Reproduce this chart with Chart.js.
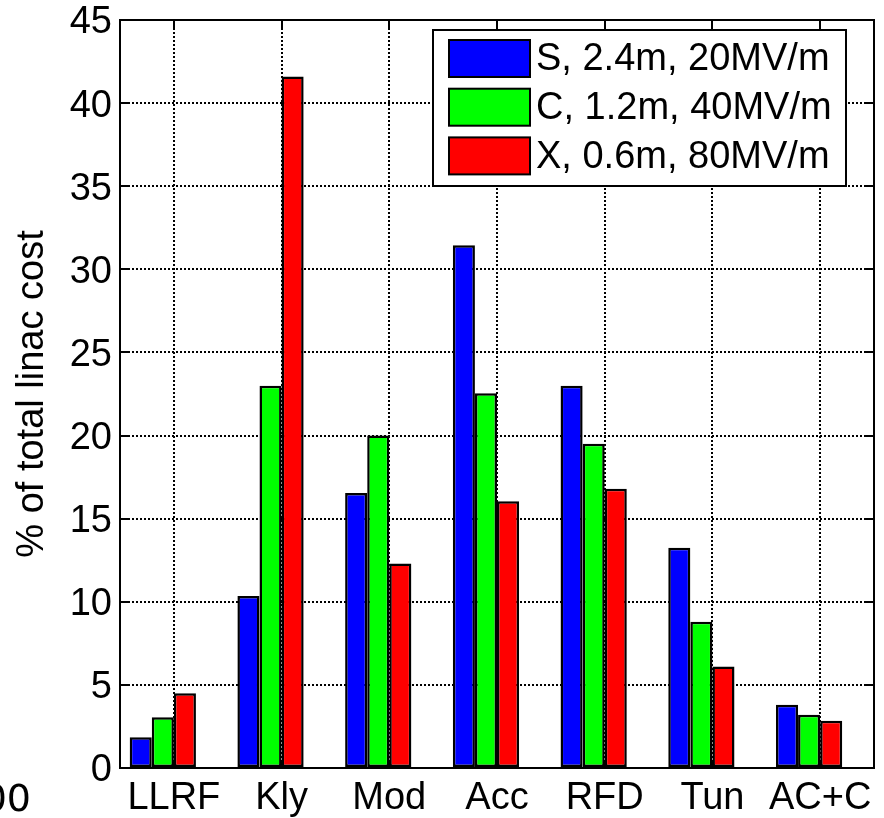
<!DOCTYPE html>
<html>
<head>
<meta charset="utf-8">
<script src="https://cdn.jsdelivr.net/npm/chart.js@4.4.1/dist/chart.umd.min.js"></script>
<style>
  html, body { margin: 0; padding: 0; background: #ffffff; }
  #wrap { width: 884px; height: 818px; }
</style>
</head>
<body>
<div id="wrap"><canvas id="c" width="884" height="818"></canvas></div>
<script>
// Cost components along the linac
const categories = ['LLRF', 'Kly', 'Mod', 'Acc', 'RFD', 'Tun', 'AC+C'];

// Share of total linac cost (%) for each RF band
const seriesNames = ['S, 2.4m, 20MV/m', 'C, 1.2m, 40MV/m', 'X, 0.6m, 80MV/m'];
const sBand = [1.85, 10.35, 16.55, 31.45, 23.0, 13.25, 3.8];
const cBand = [3.05, 23.0, 20.0, 22.55, 19.5, 8.8, 3.2];
const xBand = [4.5, 41.6, 12.3, 16.05, 16.8, 6.1, 2.85];
const seriesColors = ['#0000ff', '#00ff00', '#ff0000'];

// Value axis
const yTicks = [0, 5, 10, 15, 20, 25, 30, 35, 40, 45];
const yTitle = '% of total linac cost';
const cornerLabel = '00';

const FONT = '"Liberation Sans", Arial, Helvetica, sans-serif';
const FS = 38;

const bandData = [sBand, cBand, xBand];
const datasets = bandData.map((vals, i) => ({
  label: seriesNames[i],
  data: vals,
  backgroundColor: seriesColors[i],
  borderColor: '#000000',
  borderWidth: 2.5,
  borderSkipped: false
}));
// empty fourth bar slot in every group
datasets.push({ label: '', data: [], backgroundColor: 'rgba(0,0,0,0)', borderWidth: 0 });

const decorations = {
  id: 'decorations',
  afterDatasetsDraw(chart) {
    const { ctx, chartArea: a, scales } = chart;
    const xs = scales.x, ys = scales.y;
    ctx.save();
    ctx.strokeStyle = '#000';
    ctx.lineWidth = 2;
    ctx.setLineDash([]);
    // inward tick marks on all four sides
    const tl = 8;
    ctx.beginPath();
    yTicks.forEach(v => {
      const y = Math.round(ys.getPixelForValue(v));
      ctx.moveTo(a.left, y); ctx.lineTo(a.left + tl, y);
      ctx.moveTo(a.right, y); ctx.lineTo(a.right - tl, y);
    });
    categories.forEach((c, i) => {
      const x = Math.round(xs.getPixelForValue(i));
      ctx.moveTo(x, a.top); ctx.lineTo(x, a.top + tl);
      ctx.moveTo(x, a.bottom); ctx.lineTo(x, a.bottom - tl);
    });
    ctx.stroke();
    // axes box
    ctx.strokeRect(a.left, a.top, a.right - a.left, a.bottom - a.top);

    // legend box
    const lx = 433, ly = 30, lw = 413, lh = 156;
    ctx.fillStyle = '#fff';
    ctx.fillRect(lx, ly, lw, lh);
    ctx.strokeRect(lx, ly, lw, lh);
    ctx.font = FS + 'px ' + FONT;
    ctx.textBaseline = 'middle';
    ctx.textAlign = 'left';
    for (let i = 0; i < 3; i++) {
      const ds = chart.data.datasets[i];
      const top = 40 + i * 48.7;
      ctx.fillStyle = ds.backgroundColor;
      ctx.fillRect(449, top, 81, 37);
      ctx.strokeRect(449, top, 81, 37);
      ctx.fillStyle = '#000';
      ctx.fillText(ds.label, 536, top + 20);
    }

    // value axis title
    ctx.save();
    ctx.translate(33, (a.top + a.bottom) / 2);
    ctx.rotate(-Math.PI / 2);
    ctx.textAlign = 'center';
    ctx.textBaseline = 'middle';
    ctx.font = FS + 'px ' + FONT;
    ctx.fillText(yTitle, 0, 0);
    ctx.restore();

    // label running in from the neighbouring panel
    ctx.font = '38px "DejaVu Sans", sans-serif';
    ctx.textAlign = 'right';
    ctx.textBaseline = 'alphabetic';
    ctx.fillText(cornerLabel, 31, 811);
    ctx.restore();
  }
};

new Chart(document.getElementById('c'), {
  type: 'bar',
  data: { labels: categories, datasets },
  options: {
    responsive: false,
    animation: false,
    devicePixelRatio: 1,
    layout: { padding: { top: 20, right: 10, left: 0, bottom: 0 }, autoPadding: false },
    plugins: { legend: { display: false }, tooltip: { enabled: false } },
    datasets: { bar: { barPercentage: 1.0, categoryPercentage: 0.82 } },
    scales: {
      x: {
        offset: true,
        grid: { offset: false, color: '#000', lineWidth: 2, drawTicks: false },
        border: { display: false, dash: [2, 2] },
        ticks: { color: '#000', font: { family: FONT, size: FS }, padding: 8, maxRotation: 0, autoSkip: false },
        afterFit(s) { s.height = 50; s.paddingLeft = 0; s.paddingRight = 0; }
      },
      y: {
        min: 0, max: 45,
        afterBuildTicks(s) { s.ticks = yTicks.map(v => ({ value: v })); },
        grid: { color: '#000', lineWidth: 2, drawTicks: false },
        border: { display: false, dash: [2, 2] },
        ticks: { color: '#000', font: { family: FONT, size: FS }, padding: 8, labelOffset: 3 },
        afterFit(s) { s.width = 120; s.paddingTop = 0; s.paddingBottom = 0; }
      }
    }
  },
  plugins: [decorations]
});
</script>
</body>
</html>
